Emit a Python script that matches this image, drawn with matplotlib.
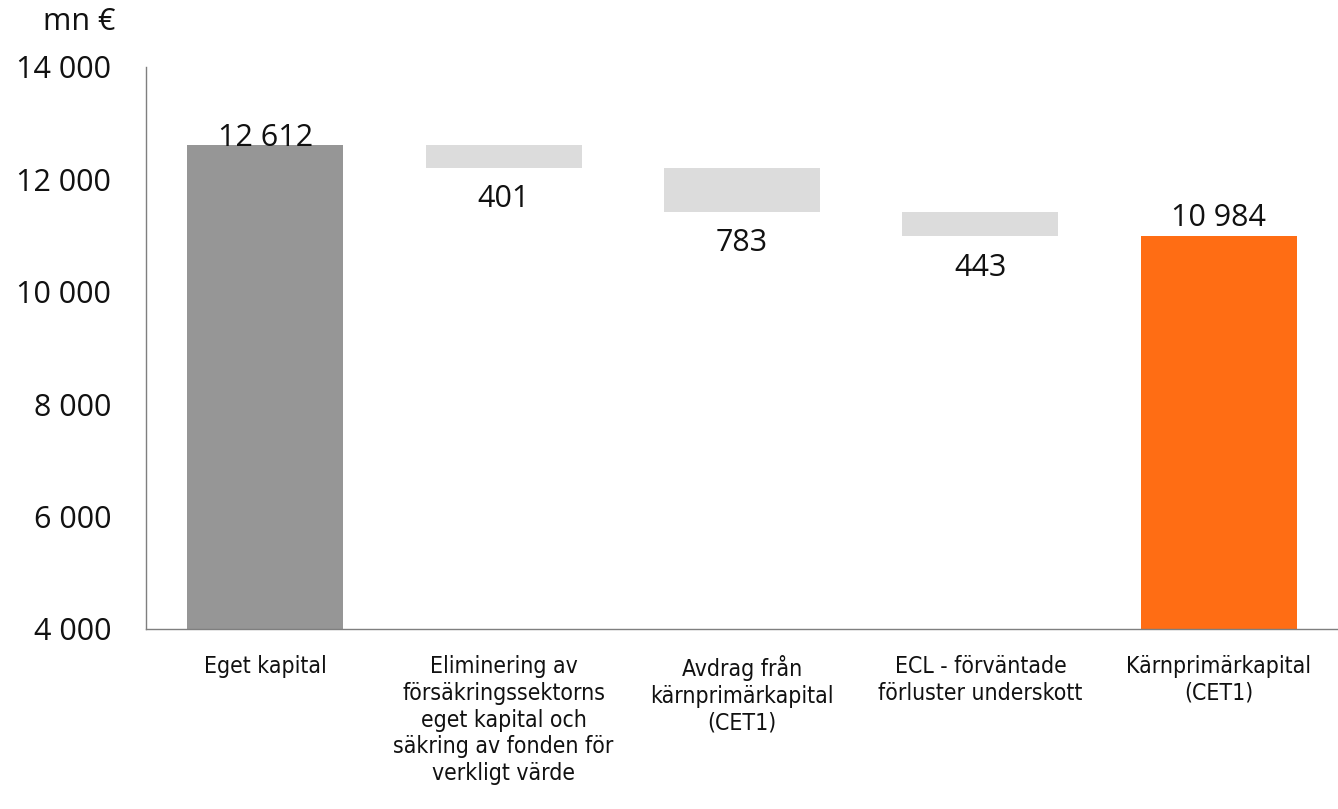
import matplotlib; matplotlib.use("Agg")
import matplotlib.pyplot as plt
from matplotlib.ticker import FuncFormatter

categories = ["Eget kapital",
              "Eliminering av\nförsäkringssektorns\neget kapital och\nsäkring av fonden för\nverkligt värde",
              "Avdrag från\nkärnprimärkapital\n(CET1)",
              "ECL - förväntade\nförluster underskott",
              "Kärnprimärkapital\n(CET1)"]
values = [12612, -401, -783, -443, 10984]
kinds = ["total", "delta", "delta", "delta", "total"]
colors = {"start": "#969696", "delta": "#dcdcdc", "end": "#ff6d14"}

NUM = ["Open Sans", "DejaVu Sans"]

fig = plt.figure(figsize=(13.38, 8.09), dpi=100)
ax = fig.add_axes([146/1338, 1-629/809, (1338-146)/1338, (629-67)/809])

run = 0
for i, (v, k) in enumerate(zip(values, kinds)):
    if k == "total":
        c = colors["start"] if i == 0 else colors["end"]
        ax.bar(i, v - 4000, bottom=4000, width=0.655, color=c)
        run = v
        ax.annotate(f"{v:,}".replace(",", " "), (i, v), xytext=(0, 13 if i else 5),
                    textcoords="offset points", ha="center", va="center",
                    fontsize=22, family=NUM, color="#111111")
    else:
        ax.bar(i, v, bottom=run, width=0.655, color=colors["delta"])
        run += v
        ax.annotate(f"{-v}", (i, run), xytext=(0, -23), textcoords="offset points",
                    ha="center", va="center", fontsize=22, family=NUM, color="#111111")

ax.set_xlim(-0.5, 4.5)
ax.set_ylim(4000, 14000)
ax.set_yticks(range(4000, 14001, 2000))
ax.yaxis.set_major_formatter(FuncFormatter(lambda y, _: f"{int(y):,}".replace(",", " ")))
ax.set_xticks(range(5))
ax.set_xticklabels(categories)
ax.tick_params(axis="both", length=0)
ax.tick_params(axis="x", pad=19)
ax.tick_params(axis="y", pad=25)
for t in ax.get_xticklabels():
    t.set_family("DejaVu Sans"); t.set_stretch("condensed"); t.set_fontsize(16.5)
    t.set_linespacing(1.2); t.set_verticalalignment("top"); t.set_color("#111111")
for t in ax.get_yticklabels():
    t.set_family(NUM); t.set_fontsize(22); t.set_color("#111111")
for s in ["top", "right"]:
    ax.spines[s].set_visible(False)
for s in ["left", "bottom"]:
    ax.spines[s].set_color("#7f7f7f"); ax.spines[s].set_linewidth(1)

fig.text(79/1338, 1-22/809, "mn €", ha="center", va="center", fontsize=22, family=NUM, color="#111111")
fig.savefig("out.png", dpi=100)
